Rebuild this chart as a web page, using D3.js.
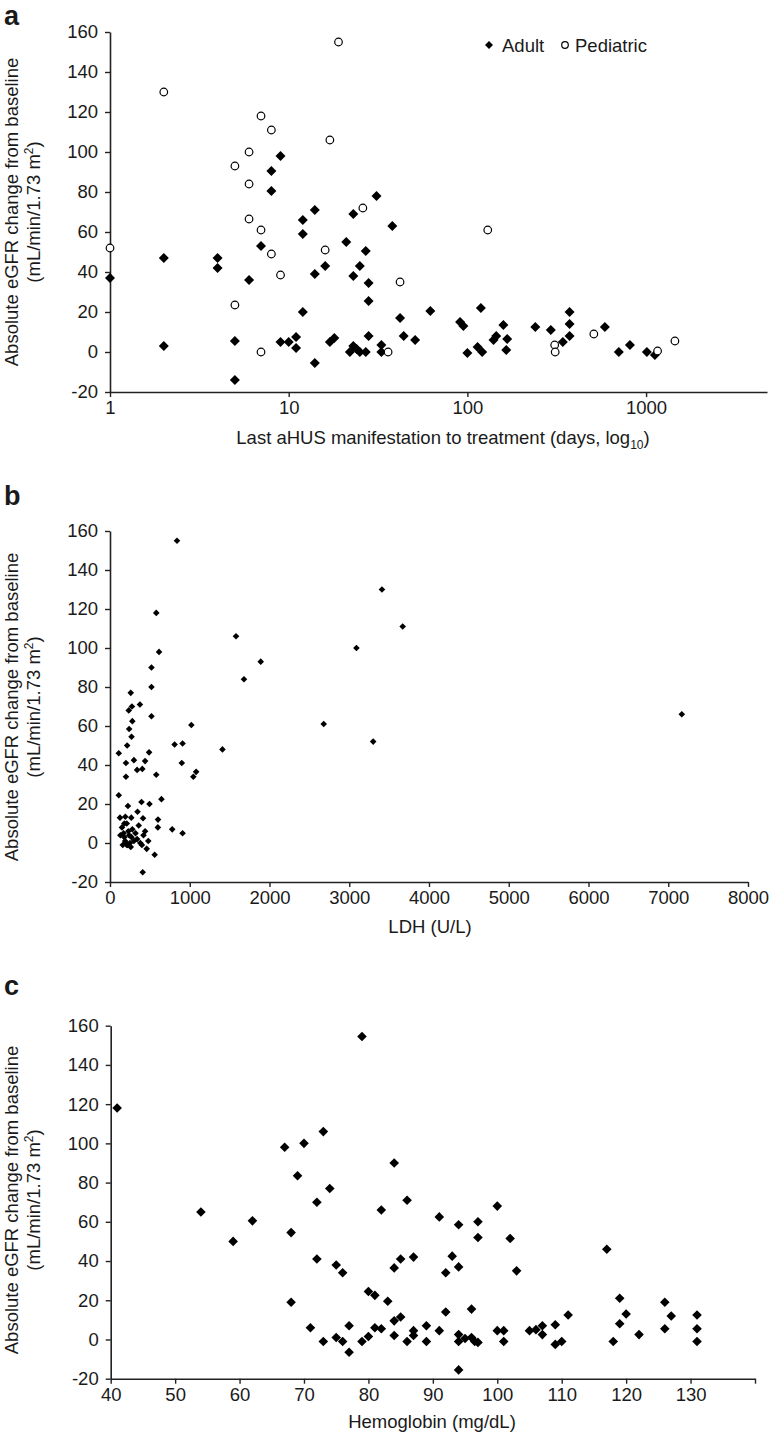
<!DOCTYPE html>
<html><head><meta charset="utf-8">
<script src="https://cdn.jsdelivr.net/npm/d3@7"></script>
<style>
body{margin:0;background:#fff;}
svg{display:block;}
text{font-family:"Liberation Sans",Arial,sans-serif;fill:#1a1a1a;}
</style></head>
<body>
<svg id="chart" width="773" height="1433"></svg>
<script>
// Panel a data
const adultDays = [1,2,2,4,4,5,5,6,7,8,8,9,9,10,11,11,12,12,12,14,14,14,16,17,18,21,22,23,23,23,24,25,25,27,27,28,28,28,31,33,33,38,42,44,51,62,91,95,100,114,119,121,140,145,159,165,167,240,293,342,373,373,373,588,704,812,1010,1120];
const adultEgfr = [37,47,3,47,42,5.5,-14,36,53,90.5,80.5,98,5,5,7.5,2,66,59,20,71,39,-5.5,43,5,7,55,0,69,38,3,1.5,43,0,50.5,0,34.5,25.5,8,78,3.5,0,63,17,8,6,20.5,15,13,-0.5,2.5,22,0,6,8,13.5,1,6.5,12.5,11,5,20,14,8,12.5,0,3.5,0,-1.5];
const pedDays = [1,2,5,5,6,6,6,7,7,7,8,8,9,16,17,19,26,36,42,130,308,310,510,1160,1450];
const pedEgfr = [52,130,93,23.5,100,84,66.5,118,61,0,111,49,38.5,51,106,155,72,0,35,61,3.5,0,9,0.5,5.5];
const logTicks = [1,10,100,1000];

// Panel b data
const ldhValues = [840,580,1580,3410,3670,3090,1890,2680,3300,7170,615,520,1680,520,260,375,275,235,520,280,1020,240,270,215,910,810,110,490,1410,200,300,440,900,340,405,1080,1045,200,580,110,225,395,495,645,345,125,192,267,414,602,
  150,170,180,190,200,210,230,240,250,260,270,280,300,320,340,360,380,400,420,440,460,480,560,410,600,780,910,130,160,180,210,220];
const ldhEgfr = [155,118,106,130,111,100,93,61,52,66,98,90,84,80,77,71,70,68,65,62.5,60.5,58.5,54.5,50,51,50.5,46,46.5,48,41,42.5,42,41,37.5,38,36.5,34,34,35,24.5,19,21,20,22.5,16,13,13.5,13,12.7,12,
  8,5,3,1,0,-1,6,4,0,-2,3,7,1,5,2,9,0,-1,4,6,-3,1,-6,-15,8,7,5,4,-1,10,10,-1];
const ldhTicks = [0,1000,2000,3000,4000,5000,6000,7000,8000];

// Panel c data
const hbValues = [41,54,59,62,67,68,68,69,70,71,72,72,73,73,74,75,75,76,76,77,77,79,79,80,80,81,81,82,82,83,84,84,84,84,85,85,86,86,87,87,87,89,89,91,91,92,92,93,94,94,94,94,94,95,96,96,96.5,97,97,97,100,100,101,101,102,103,105,106,107,107,109,109,110,111,117,118,119,119,120,122,126,126,127,131,131,131];
const hbEgfr = [118,65,50,60.5,98,54.5,19,83.5,100,6,70,41,106,-1,77,38,1,34,-1,7,-6.5,154.5,-1,24.5,1.5,22.5,6,66,5.5,19.5,90,36.5,9.5,2,41,11.5,71,-1,42,4.5,2,7,-1,62.5,4.5,34,14,42.5,58.5,37,2.5,-1,-15.5,0.5,15.5,1,-1,60,52,-1.5,68,4.5,4.5,-1,51.5,35,4.5,5,7,2.5,7.5,-2.5,-1,12.5,46,-1,21,8,13,2.5,19,5.5,12,12.5,5.5,-1];
const hbTicks = [40,50,60,70,80,90,100,110,120,130];

const egfrTicks = [-20,0,20,40,60,80,100,120,140,160];

const svg = d3.select("#chart");
const FS = 18.5;
const plain = d => String(d);

function diamond(g, pts, r){
  g.selectAll(null).data(pts).join("path")
    .attr("d", d => `M${d[0]},${d[1]-r}L${d[0]+r},${d[1]}L${d[0]},${d[1]+r}L${d[0]-r},${d[1]}Z`)
    .attr("fill","#000");
}

function yAxis(y, x0, midY){
  const g = svg.append("g").attr("transform",`translate(${x0},0)`)
    .call(d3.axisLeft(y).tickValues(egfrTicks).tickFormat(plain).tickSize(5).tickSizeOuter(0).tickPadding(7));
  g.select(".domain").attr("stroke","#222").attr("stroke-width",1.6);
  g.selectAll(".tick line").attr("stroke","#222").attr("stroke-width",1.4);
  g.selectAll(".tick text").attr("font-size",FS).attr("font-family","Liberation Sans, Arial, sans-serif").attr("fill","#1a1a1a");
  const t = svg.append("text").attr("transform",`translate(18,${midY}) rotate(-90)`)
    .attr("text-anchor","middle").attr("font-size",FS);
  t.append("tspan").attr("x",0).attr("y",0).text("Absolute eGFR change from baseline");
  t.append("tspan").attr("x",0).attr("y",22).text("(mL/min/1.73 m");
  t.append("tspan").attr("dy",-7).attr("font-size",12).text("2");
  t.append("tspan").attr("dy",7).text(")");
}

function xAxisStyle(g){
  g.select(".domain").attr("stroke","#222").attr("stroke-width",1.6);
  g.selectAll(".tick line").attr("stroke","#222").attr("stroke-width",1.4);
  g.selectAll(".tick text").attr("font-size",FS).attr("font-family","Liberation Sans, Arial, sans-serif").attr("fill","#1a1a1a");
}

function panelLabel(txt, x, y){
  svg.append("text").attr("x",x).attr("y",y).attr("font-size",27).attr("font-weight","bold").text(txt);
}

// ---------- Panel a ----------
{
  const x = d3.scaleLog().domain([1, 4750]).range([110, 767]);
  const y = d3.scaleLinear().domain([-20,160]).range([392,32]);
  yAxis(y, 110, 212);
  const gx = svg.append("g").attr("transform","translate(0,392)")
    .call(d3.axisBottom(x).tickValues(logTicks).tickFormat(plain).tickSize(5).tickSizeOuter(0).tickPadding(4));
  xAxisStyle(gx);
  const t = svg.append("text").attr("x",443).attr("y",444).attr("text-anchor","middle").attr("font-size",FS);
  t.append("tspan").text("Last aHUS manifestation to treatment (days, log");
  t.append("tspan").attr("dy",5).attr("font-size",12).text("10");
  t.append("tspan").attr("dy",-5).text(")");
  const g = svg.append("g");
  diamond(g, adultDays.map((d,i)=>[x(d), y(adultEgfr[i])]), 5);
  g.selectAll(null).data(pedDays.map((d,i)=>[x(d), y(pedEgfr[i])])).join("circle")
    .attr("cx",d=>d[0]).attr("cy",d=>d[1]).attr("r",3.8)
    .attr("fill","#fff").attr("stroke","#000").attr("stroke-width",1.2);
  // legend
  diamond(svg.append("g"), [[489,45]], 4);
  svg.append("text").attr("x",502).attr("y",52).attr("font-size",FS).text("Adult");
  svg.append("circle").attr("cx",565).attr("cy",45).attr("r",3.3).attr("fill","#fff").attr("stroke","#000").attr("stroke-width",1.2);
  svg.append("text").attr("x",575).attr("y",52).attr("font-size",FS).text("Pediatric");
  panelLabel("a", 4, 24.5);
}

// ---------- Panel b ----------
{
  const x = d3.scaleLinear().domain([0,8000]).range([110,748]);
  const y = d3.scaleLinear().domain([-20,160]).range([882,531]);
  yAxis(y, 110, 707);
  const gx = svg.append("g").attr("transform","translate(0,882)")
    .call(d3.axisBottom(x).tickValues(ldhTicks).tickFormat(plain).tickSize(5).tickSizeOuter(0).tickPadding(4));
  xAxisStyle(gx);
  svg.append("text").attr("x",430).attr("y",933).attr("text-anchor","middle").attr("font-size",FS).text("LDH (U/L)");
  diamond(svg.append("g"), ldhValues.map((d,i)=>[x(d), y(ldhEgfr[i])]), 3.3);
  panelLabel("b", 4, 505);
}

// ---------- Panel c ----------
{
  const x = d3.scaleLinear().domain([40,140]).range([110.7,755]);
  const y = d3.scaleLinear().domain([-20,160]).range([1378.7,1025.7]);
  yAxis(y, 110.7, 1200);
  const gx = svg.append("g").attr("transform","translate(0,1378.7)")
    .call(d3.axisBottom(x).tickValues(hbTicks.concat([140])).tickFormat(d=> d===140?"":String(d)).tickSize(5).tickSizeOuter(0).tickPadding(4));
  xAxisStyle(gx);
  svg.append("text").attr("x",432).attr("y",1428).attr("text-anchor","middle").attr("font-size",FS).text("Hemoglobin (mg/dL)");
  diamond(svg.append("g"), hbValues.map((d,i)=>[x(d), y(hbEgfr[i])]), 4.8);
  panelLabel("c", 4, 995);
}
</script>
</body></html>
